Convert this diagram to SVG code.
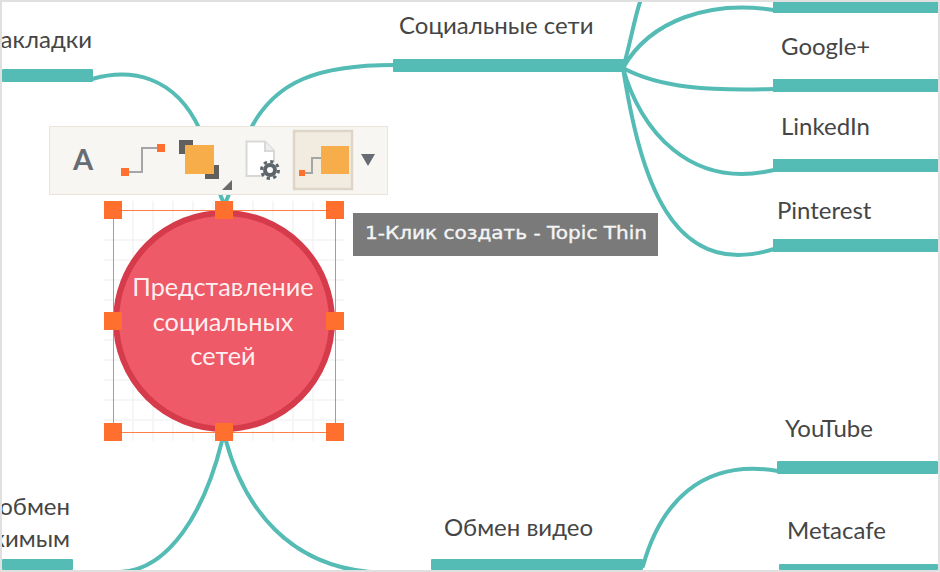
<svg xmlns="http://www.w3.org/2000/svg" width="940" height="572" viewBox="0 0 940 572">
<style>
text{font-family:"Lato","Open Sans","Liberation Sans",sans-serif}
.l{font-size:24px;fill:#454545}
.e{text-anchor:end}
.c{fill:none;stroke:#54bbb5;stroke-width:4;stroke-linecap:round}
.b{fill:#54bbb5}
.h{fill:#ff6f2e}
.g{stroke:#f4f4f4;stroke-width:1.5;fill:none}
.t{font-size:25.300px;fill:#fff;fill-opacity:.92;text-anchor:middle}
</style>
<rect width="940" height="572" fill="#fff"/>
<g id="connectors">
<path class="c" d="M92 79C130 68 175 75 200 130"/>
<path class="c" d="M250 130C275 80 320 65 394 65"/>
<path class="c" d="M220 194L224 204M229 194L225 204"/>
<path class="c" d="M623 68C630 45 634 20 640 2"/>
<path class="c" d="M623 68C650 20 710 0 774 10"/>
<path class="c" d="M623 68C660 88 710 91 774 89"/>
<path class="c" d="M623 68C640 130 690 190 774 170"/>
<path class="c" d="M623 68C640 175 670 282 774 249"/>
<path class="c" d="M222 441C205 510 170 570 120 572"/>
<path class="c" d="M226 441C245 510 290 565 370 572"/>
<path class="c" d="M643 566C660 505 700 458 778 471"/>
</g>
<g id="node-bookmarks"><text class="l e" x="92" y="48">акладки</text><rect class="b" x="2" y="69" width="91" height="13" rx="1"/></g>
<g id="node-social"><text class="l" x="399" y="34">Социальные сети</text><rect class="b" x="393" y="59" width="231" height="13" rx="1"/></g>
<g id="node-top"><rect class="b" x="773" y="2" width="165" height="11"/></g>
<g id="node-google"><text class="l" x="781" y="55">Google+</text><rect class="b" x="773" y="79" width="165" height="13"/></g>
<g id="node-linkedin"><text class="l" x="781" y="135">LinkedIn</text><rect class="b" x="773" y="159" width="165" height="13"/></g>
<g id="node-pinterest"><text class="l" x="777" y="219">Pinterest</text><rect class="b" x="773" y="239" width="165" height="13"/></g>
<g id="node-youtube"><text class="l" x="785" y="437">YouTube</text><rect class="b" x="777" y="461" width="161" height="13" rx="1"/></g>
<g id="node-metacafe"><text class="l" x="787" y="539">Metacafe</text><rect class="b" x="779" y="564" width="159" height="6" rx="1"/></g>
<g id="node-video"><text class="l" x="444" y="536">Обмен видео</text><rect class="b" x="431" y="559" width="212" height="11" rx="1"/></g>
<g id="node-exchange"><text class="l e" x="70" y="515">обмен</text><text class="l e" x="70" y="547">жимым</text><rect class="b" x="2" y="559" width="71" height="11" rx="1"/></g>
<g id="grid">
<path class="g" d="M104 240H344M104 260H344M104 280H344M104 300H344M104 320H344M104 340H344M104 360H344M104 380H344M104 400H344M104 420H344M133 201V441M153 201V441M173 201V441M193 201V441M213 201V441M233 201V441M253 201V441M273 201V441M293 201V441M313 201V441"/>
</g>
<g id="node-central">
<circle cx="224" cy="321" r="108" fill="#ee5a67" stroke="#d63b4b" stroke-width="6"/>
<text class="t" x="223" y="296">Представление</text>
<text class="t" x="223" y="331">социальных</text>
<text class="t" x="223" y="365">сетей</text>
</g>
<g id="selection">
<rect x="113.500" y="210.500" width="222" height="222" fill="none" stroke="#ff7f47" stroke-width="1"/>
<rect class="h" x="104" y="201" width="18" height="18"/><rect class="h" x="215" y="201" width="18" height="18"/><rect class="h" x="326" y="201" width="18" height="18"/>
<rect class="h" x="104" y="312" width="18" height="18"/><rect class="h" x="326" y="312" width="18" height="18"/>
<rect class="h" x="104" y="423" width="18" height="18"/><rect class="h" x="215" y="423" width="18" height="18"/><rect class="h" x="326" y="423" width="18" height="18"/>
</g>
<g id="toolbar">
<rect x="49.500" y="126.500" width="338" height="68" fill="#f8f6f2" stroke="#eae4d9"/>
<text x="83" y="170" font-size="29" font-weight="700" fill="#666d73" text-anchor="middle">A</text>
<path d="M129 172H142V148H160" fill="none" stroke="#a3a5a6" stroke-width="2"/>
<rect class="h" x="121" y="168" width="8" height="8"/><rect class="h" x="157" y="144" width="8" height="8"/>
<rect x="179" y="140" width="14" height="14" fill="#5f5f5f"/><rect x="205" y="165" width="14" height="14" fill="#5f5f5f"/>
<rect x="185" y="145" width="29" height="29" fill="#f7ad4a"/>
<path d="M232 180V190H222Z" fill="#6b6b6b"/>
<path d="M246.500 141.500H265L274 151V176H246.500Z" fill="#fff" stroke="#d8d8d8" stroke-width="2"/>
<path d="M265 141.500V151H274" fill="#eee" stroke="#d8d8d8" stroke-width="2"/>
<circle cx="270" cy="170" r="9.500" fill="#f8f6f2"/>
<circle cx="270" cy="170" r="5" fill="#fff" stroke="#5d666b" stroke-width="4"/>
<circle cx="270" cy="170" r="8.500" fill="none" stroke="#5d666b" stroke-width="3" stroke-dasharray="3.300 3.370"/>
<rect x="294" y="131" width="58" height="58" fill="#f2ebdf" stroke="#ddd5c7" stroke-width="2.500"/>
<path d="M305 173H312V158H322" fill="none" stroke="#a3a5a6" stroke-width="2"/>
<rect class="h" x="299" y="170" width="6" height="6"/>
<rect x="321" y="146" width="28" height="28" fill="#f7ad4a"/>
<path d="M361 154H375L368 166Z" fill="#656d73"/>
</g>
<g id="tooltip">
<rect x="353" y="213" width="305" height="43" fill="#7a7a7a"/>
<text x="365" y="239" font-size="18" textLength="282" lengthAdjust="spacingAndGlyphs" fill="#f4f4f4" stroke="#f4f4f4" stroke-width=".4" style="font-family:'DejaVu Sans',sans-serif">1-Клик создать - Topic Thin</text>
</g>
<path d="M1 1H939V571H1Z" fill="none" stroke="#e0e0e0" stroke-width="2"/>
</svg>
